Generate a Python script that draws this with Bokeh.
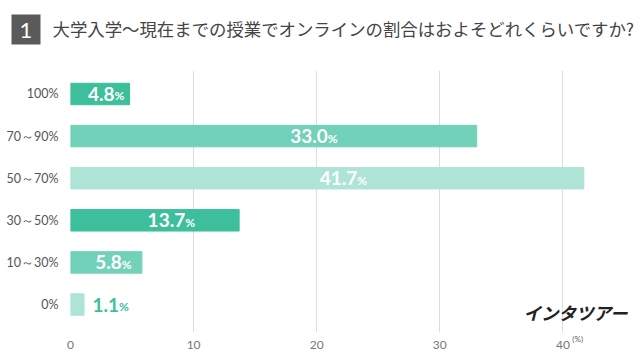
from bokeh.plotting import figure
from bokeh.layouts import column
from bokeh.models import (ColumnDataSource, FixedTicker, Label, BoxAnnotation,
                          LinearAxis, Range1d)
from bokeh.core.properties import value
from bokeh.embed import file_html
from bokeh.resources import INLINE

# ---- data ----
categories = ["0%", "10～30%", "30～50%", "50～70%", "70～90%", "100%"]
shares = [1.1, 5.8, 13.7, 41.7, 33.0, 4.8]
bar_colors = ["#aee4d5", "#72d1b9", "#3dbf9c", "#aee4d5", "#72d1b9", "#3dbf9c"]
x_ticks = [0, 10, 20, 30, 40]
unit_tick = [41.2]
title_number = "1"
title_text = "大学入学～現在までの授業でオンラインの割合はおよそどれくらいですか?"
brand_text = "インタツアー"
unit_text = "(%)"

W = 640
HH = 62          # header height
H = 300          # chart height
L, R, T, B = 70, 10, 8, 30

# ---------------- header ----------------
hdr = figure(width=W, height=HH, output_backend="svg", toolbar_location=None,
             x_range=Range1d(0, W), y_range=Range1d(HH, 0),
             x_axis_type=None, y_axis_type=None,
             min_border=0, min_border_left=0, min_border_right=0,
             min_border_top=0, min_border_bottom=0)
hdr.frame_align = False
hdr.outline_line_color = None
hdr.grid.visible = False
hdr.add_layout(BoxAnnotation(left=11, right=40, top=14, bottom=44,
                             fill_color="#5a5a5a", fill_alpha=1, line_color=None))
hdr.add_layout(Label(x=25.5, y=30, text=title_number, text_align="center",
                     text_baseline="middle", text_font="Lato",
                     text_font_size="22px", text_color="white"))
hdr.add_layout(Label(x=52, y=28, text=title_text, text_align="left",
                     text_baseline="middle", text_font="Noto Sans CJK JP",
                     text_font_size="17.4px", text_color="#444444"))

# ---------------- chart ----------------
ypos = list(range(len(categories)))
src = ColumnDataSource(dict(y=ypos, v=shares, c=bar_colors))

nums, anchors, offs, tcols = [], [], [], []
for v in shares:
    s = f"{v:.1f}"
    num_w = 10 * (len(s) - 1) + 7
    nums.append(s)
    if v >= 2:
        anchors.append(min(0.6 * v, 22.2))
        offs.append((num_w - 10) / 2)
        tcols.append("#ffffff")
    else:
        anchors.append(v + 0.65)
        offs.append(num_w)
        tcols.append("#3dbf9c")
lab = ColumnDataSource(dict(y=ypos, x=anchors, num=nums, pct=["%"] * len(nums),
                            off=offs, col=tcols))

frame_w = W - L - R
x_end = frame_w / 12.31
y_lo, y_hi = -0.665, 5.558

p = figure(width=W, height=H, output_backend="svg", toolbar_location=None,
           x_range=Range1d(0, x_end), y_range=Range1d(y_lo, y_hi),
           min_border_left=L, min_border_right=R, min_border_top=T,
           min_border_bottom=B)
p.frame_align = False
p.outline_line_color = None

p.hbar(y="y", right="v", left=0, height=0.51, color="c", source=src)

p.text(x="x", y="y", text="num", source=lab, text_align="right",
       text_baseline="middle", x_offset="off", y_offset=0,
       text_font=value("Lato"), text_font_style="bold", text_font_size="19px",
       text_color="col")
p.text(x="x", y="y", text="pct", source=lab, text_align="left",
       text_baseline="middle", x_offset="off", y_offset=2,
       text_font=value("Lato"), text_font_style="bold", text_font_size="12px",
       text_color="col")

p.xaxis.ticker = FixedTicker(ticks=x_ticks)
p.xaxis.axis_line_color = None
p.xaxis.major_tick_line_color = None
p.xaxis.minor_tick_line_color = None
p.xaxis.major_label_standoff = 2
p.xaxis.major_label_text_font = "Lato"
p.xaxis.major_label_text_font_size = "12px"
p.xaxis.major_label_text_color = "#777777"

p.yaxis.ticker = FixedTicker(ticks=ypos)
p.yaxis.major_label_overrides = {i: c for i, c in zip(ypos, categories)}
p.yaxis.axis_line_color = None
p.yaxis.major_tick_line_color = None
p.yaxis.minor_tick_line_color = None
p.yaxis.major_label_standoff = 6
p.yaxis.major_label_text_font = "Lato"
p.yaxis.major_label_text_font_size = "12.5px"
p.yaxis.major_label_text_color = "#555555"

p.xgrid.ticker = FixedTicker(ticks=x_ticks)
p.xgrid.grid_line_color = "#dddddd"
p.ygrid.grid_line_color = None

# unit marker "(%)" next to the 40 tick: second axis pulled up beside it
unit_axis = LinearAxis(ticker=FixedTicker(ticks=unit_tick),
                       major_label_overrides={unit_tick[0]: unit_text})
unit_axis.axis_line_color = None
unit_axis.major_tick_line_color = None
unit_axis.minor_tick_line_color = None
unit_axis.major_label_standoff = -24
unit_axis.major_label_text_font = "Lato"
unit_axis.major_label_text_font_size = "8px"
unit_axis.major_label_text_color = "#666666"
p.add_layout(unit_axis, "below")

# brand mark (inside the frame, screen units relative to frame)
p.add_layout(Label(x=523 - L, y=20, x_units="screen", y_units="screen",
                   text=brand_text, text_align="left", text_baseline="middle",
                   text_font="Noto Sans CJK JP", text_font_size="17.5px",
                   text_font_style="bold italic", text_color="#222222"))

layout = column(hdr, p, spacing=0)
open("out.html", "w").write(file_html(layout, INLINE))
